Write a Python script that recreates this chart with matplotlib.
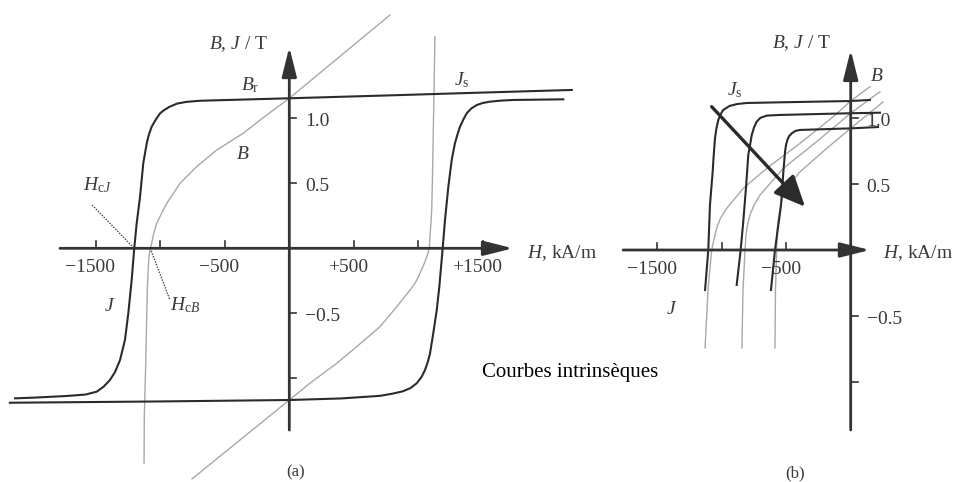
import matplotlib
matplotlib.use("Agg")
import matplotlib.pyplot as plt

plt.rcParams['font.family'] = ['Liberation Serif', 'DejaVu Serif']
plt.rcParams['mathtext.fontset'] = 'custom'
plt.rcParams['mathtext.rm'] = 'Liberation Serif'
plt.rcParams['mathtext.it'] = 'Liberation Serif:italic'

dark = '#2b2b2b'
grey = '#a8a8a8'
axcol = '#333333'
txt = '#3a3a3a'

# ---------- (a) full loop, H in kA/m, J and B in T ----------
# J, upper (descending) branch
H_Jdown = [2190, 1500, 800, 0, -400, -692, -800, -870, -930, -975, -1002, -1035,
           -1067, -1090, -1105, -1132, -1157, -1183, -1202, -1222, -1248, -1274,
           -1312, -1350, -1390, -1440, -1493, -1580, -1726, -1984, -2126]
J_down = [1.218, 1.198, 1.177, 1.154, 1.143, 1.135, 1.126, 1.113, 1.088, 1.060,
          1.038, 0.990, 0.935, 0.870, 0.808, 0.654, 0.397, 0.192, 0.0, -0.244,
          -0.5, -0.705, -0.859, -0.950, -1.013, -1.065, -1.103, -1.125, -1.136,
          -1.149, -1.154]
# J, lower (ascending) branch
H_Jup = [-2166, -1000, 0, 400, 703, 806, 880, 940, 988, 1025, 1052, 1075, 1091,
         1116, 1143, 1163, 1189, 1207, 1233, 1259, 1284, 1305, 1323, 1350, 1375,
         1410, 1453, 1500, 1556, 1640, 1736, 2124]
J_up = [-1.188, -1.178, -1.167, -1.155, -1.135, -1.117, -1.100, -1.075, -1.038,
        -0.990, -0.936, -0.870, -0.808, -0.654, -0.475, -0.295, 0.0, 0.218,
        0.474, 0.679, 0.808, 0.880, 0.935, 0.992, 1.038, 1.075, 1.102, 1.118,
        1.128, 1.136, 1.141, 1.146]
# B, descending branch
H_Bdown = [781, 0, -175, -357, -563, -718, -847, -950, -990, -1028, -1052, -1067,
           -1078, -1087, -1093, -1100, -1105, -1113, -1124, -1126]
B_down = [1.795, 1.154, 1.025, 0.885, 0.756, 0.628, 0.5, 0.346, 0.270, 0.192,
          0.110, 0.038, 0.0, -0.060, -0.142, -0.300, -0.5, -0.885, -1.295, -1.652]
# B, ascending branch
H_Bup = [-754, 0, 160, 367, 522, 703, 833, 936, 980, 1013, 1045, 1065, 1078, 1085,
         1092, 1098, 1104, 1110, 1116, 1129]
B_up = [-1.774, -1.167, -1.038, -0.885, -0.757, -0.603, -0.449, -0.321, -0.260,
        -0.192, -0.120, -0.065, -0.030, 0.0, 0.116, 0.190, 0.300, 0.550, 0.885,
        1.628]
HcJ_a = -1202
HcB_a = -1078

ticks_Ha = [-1500, -1000, -500, 500, 1000, 1500]
labels_Ha = {-1500: '\u22121500', -500: '\u2212500', 500: '+500', 1500: '+1500'}
ticks_Ba = [-1.0, -0.5, 0.5, 1.0]
labels_Ba = {1.0: '1.0', 0.5: '0.5', -0.5: '\u22120.5'}

# ---------- (b) demagnetisation curves, second quadrant ----------
H_J1 = [149, 0, -548, -806, -880, -940, -988, -1010, -1026, -1040, -1052, -1062,
        -1070, -1091, -1104, -1129]
J_1 = [1.141, 1.133, 1.123, 1.118, 1.110, 1.095, 1.065, 1.030, 0.989, 0.930,
       0.849, 0.720, 0.595, 0.342, 0.0, -0.304]
H_J2 = [227, 0, -548, -651, -700, -729, -750, -767, -780, -794, -812, -833, -853, -884]
J_2 = [1.044, 1.040, 1.027, 1.022, 1.005, 0.976, 0.930, 0.875, 0.800, 0.722,
       0.469, 0.215, 0.0, -0.266]
H_J3 = [212, 0, -393, -430, -457, -478, -491, -501, -509, -522, -540, -587, -618]
J_3 = [0.935, 0.925, 0.913, 0.905, 0.887, 0.865, 0.837, 0.800, 0.748, 0.595,
       0.342, 0.0, -0.304]

H_B1 = [150, 0, -135, -393, -651, -833, -961, -1010, -1039, -1060, -1078, -1106, -1129]
B_1 = [1.242, 1.133, 1.014, 0.811, 0.621, 0.469, 0.317, 0.240, 0.165, 0.080,
       0.0, -0.304, -0.745]
H_B2 = [227, 0, -264, -522, -703, -750, -781, -800, -812, -819, -835, -843]
B_2 = [1.204, 1.040, 0.824, 0.621, 0.418, 0.340, 0.266, 0.190, 0.114, 0.0,
       -0.304, -0.745]
H_B3 = [250, 0, -186, -393, -496, -530, -548, -560, -569, -574, -583, -587]
B_3 = [1.125, 0.925, 0.773, 0.595, 0.469, 0.390, 0.317, 0.240, 0.165, 0.0,
       -0.304, -0.745]

ticks_Hb = [-1500, -1000, -500]
labels_Hb = {-1500: '\u22121500', -500: '\u2212500'}
ticks_Bb = [-1.0, -0.5, 0.5, 1.0]
labels_Bb = {1.0: '1.0', 0.5: '0.5', -0.5: '\u22120.5'}

W, HT = 957, 482
fig = plt.figure(figsize=(W / 100, HT / 100), dpi=100)


def panel(x0, x1, ox, oy, sx, sy):
    # axes spanning pixel columns x0..x1, origin at pixel (ox, oy)
    ax = fig.add_axes([x0 / W, 0, (x1 - x0) / W, 1])
    ax.set_xlim((x0 - ox) / sx, (x1 - ox) / sx)
    ax.set_ylim((oy - HT) / sy, oy / sy)
    ax.axis('off')
    return ax


def cross(ax, hlim, blim, hticks, hlabels, bticks, blabels, sx, sy):
    arr = dict(arrowstyle='-|>,head_length=1.8,head_width=0.45', lw=2.0,
               color=axcol, shrinkA=0, shrinkB=0)
    ax.annotate('', xy=(hlim[1], 0), xytext=(hlim[0], 0), arrowprops=arr)
    ax.annotate('', xy=(0, blim[1]), xytext=(0, blim[0]), arrowprops=arr)
    for h in hticks:
        ax.plot([h, h], [0, 7 / sy], color=axcol, lw=1.2)
        if h in hlabels:
            ax.annotate(hlabels[h], xy=(h, 0), xytext=(-4, -14),
                        textcoords='offset points', ha='center', va='center',
                        fontsize=14, color=txt)
    for b in bticks:
        ax.plot([0, 7 / sx], [b, b], color=axcol, lw=1.2)
        if b in blabels:
            ax.annotate(blabels[b], xy=(0, b), xytext=(11.5, -2.5),
                        textcoords='offset points', ha='left', va='center',
                        fontsize=14, color=txt)


# panel (a)
axa = panel(0, 600, 289.3, 248.3, 0.129, 130)
axa.plot(H_Bdown, B_down, color=grey, lw=1.0)
axa.plot(H_Bup, B_up, color=grey, lw=1.0)
axa.plot(H_Jdown, J_down, color=dark, lw=1.5)
axa.plot(H_Jup, J_up, color=dark, lw=1.5)
cross(axa, (-1778, 1734), (-1.398, 1.548), ticks_Ha, labels_Ha,
      ticks_Ba, labels_Ba, 0.129, 130)
axa.plot([-1529, HcJ_a], [0.333, 0], ls=(0, (1, 1)), color='#444444', lw=1.0)
axa.plot([HcB_a, -925], [0, -0.398], ls=(0, (1, 1)), color='#444444', lw=1.0)
axa.text(-390, 1.572, '$B$, $J$ / T', fontsize=14, color=txt, ha='center', va='center')
axa.text(-305, 1.256, r'$B_\mathrm{r}$', fontsize=14, color=txt, ha='center', va='center')
axa.text(-359, 0.718, '$B$', fontsize=14, color=txt, ha='center', va='center')
axa.text(1338, 1.295, r'$J_\mathrm{s}$', fontsize=14, color=txt, ha='center', va='center')
axa.text(-1490, 0.487, r'$H_{\mathrm{c}J}$', fontsize=14, color=txt, ha='center', va='center')
axa.text(-808, -0.436, r'$H_{\mathrm{c}B}$', fontsize=14, color=txt, ha='center', va='center')
axa.text(-1389, -0.45, '$J$', fontsize=14, color=txt, ha='center', va='center')
axa.text(1841, -0.036, '$H$, kA/m', fontsize=14, color=txt, ha='left', va='center')
axa.text(45, -1.72, '(a)', fontsize=12, color=txt, ha='center', va='center')

# panel (b)
axb = panel(600, 957, 850.7, 250, 0.129, 131.5)
for hb, bb in [(H_B1, B_1), (H_B2, B_2), (H_B3, B_3)]:
    axb.plot(hb, bb, color=grey, lw=1.0)
for hj, jj in [(H_J1, J_1), (H_J2, J_2), (H_J3, J_3)]:
    axb.plot(hj, jj, color=dark, lw=1.5)
cross(axb, (-1764, 149), (-1.369, 1.521), ticks_Hb, labels_Hb,
      ticks_Bb, labels_Bb, 0.129, 131.5)
axb.annotate('', xy=(-354, 0.329), xytext=(-1078, 1.090),
             arrowprops=dict(arrowstyle='-|>,head_length=1.9,head_width=0.85',
                             lw=2.4, color=dark, shrinkA=0, shrinkB=0))
axb.text(-385, 1.574, '$B$, $J$ / T', fontsize=14, color=txt, ha='center', va='center')
axb.text(204, 1.316, '$B$', fontsize=14, color=txt, ha='center', va='center')
axb.text(-897, 1.217, r'$J_\mathrm{s}$', fontsize=14, color=txt, ha='center', va='center')
axb.text(-1386, -0.456, '$J$', fontsize=14, color=txt, ha='center', va='center')
axb.text(250, -0.023, '$H$, kA/m', fontsize=14, color=txt, ha='left', va='center')
axb.text(-430, -1.70, '(b)', fontsize=12, color=txt, ha='center', va='center')

fig.text(482 / W, 1 - 373 / HT, 'Courbes intrinsèques', fontsize=15,
         color='black', ha='left', va='center')

fig.savefig('out.png', dpi=100)
